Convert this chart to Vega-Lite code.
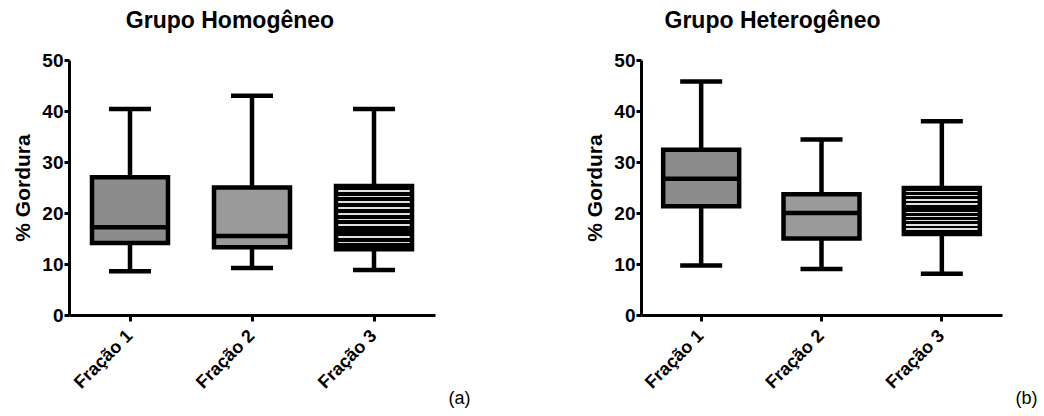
{
  "$schema": "https://vega.github.io/schema/vega-lite/v6.json",
  "background": "white",
  "padding": {"left": 12, "top": 10, "right": 5, "bottom": 5},
  "spacing": 114,
  "config": {
    "view": {"stroke": null},
    "font": "Liberation Sans",
    "axis": {
      "domainColor": "black", "domainWidth": 3, "tickColor": "black", "tickWidth": 3, "tickSize": 6,
      "labelColor": "black", "labelFont": "Liberation Sans", "labelFontWeight": "bold", "labelFontSize": 19,
      "titleColor": "black", "titleFont": "Liberation Sans", "grid": false
    },
    "title": {"font": "Liberation Sans", "fontSize": 23, "fontWeight": "bold", "color": "black", "anchor": "middle"}
  },
  "datasets": {
    "box": [
      {"grupo": "Homogêneo", "fracao": "Fração 1", "min": 8.6, "q1": 14.1, "median": 17.2, "q3": 27.0, "max": 40.4},
      {"grupo": "Homogêneo", "fracao": "Fração 2", "min": 9.2, "q1": 13.3, "median": 15.5, "q3": 25.0, "max": 43.0},
      {"grupo": "Homogêneo", "fracao": "Fração 3", "min": 8.8, "q1": 12.9, "median": 16.5, "q3": 25.3, "max": 40.4},
      {"grupo": "Heterogêneo", "fracao": "Fração 1", "min": 9.7, "q1": 21.3, "median": 26.7, "q3": 32.4, "max": 45.8},
      {"grupo": "Heterogêneo", "fracao": "Fração 2", "min": 9.0, "q1": 15.0, "median": 20.0, "q3": 23.7, "max": 34.4},
      {"grupo": "Heterogêneo", "fracao": "Fração 3", "min": 8.1, "q1": 15.9, "median": 21.0, "q3": 24.9, "max": 38.0}
    ]
  },
  "hconcat": [
    {
      "width": 366, "height": 255,
      "title": {"text": "Grupo Homogêneo", "dx": -22, "offset": 18},
      "data": {"name": "box"},
      "transform": [{"filter": "datum.grupo == 'Homogêneo'"}],
      "encoding": {
        "x": {"field": "fracao", "type": "nominal", "scale": {"paddingInner": 0, "paddingOuter": 0},
          "axis": {"labelAngle": -45, "labelAlign": "right", "labelBaseline": "middle", "labelPadding": 12, "labelFontSize": 18,
            "title": "(a)", "titleFontWeight": "normal", "titleFontSize": 18, "titleAnchor": "start", "titleAlign": "left", "titleBaseline": "alphabetic", "titleX": 379, "titleY": 88}}
      },
      "layer": [
        {"mark": {"type": "rule", "strokeWidth": 4.5, "color": "black"},
         "encoding": {"y": {"field": "min", "type": "quantitative", "scale": {"domain": [0, 50]},
           "axis": {"values": [0, 10, 20, 30, 40, 50], "tickSize": 5, "labelPadding": 1, "title": "% Gordura", "titleFontSize": 21, "titleFontWeight": "bold", "titlePadding": 8}},
           "y2": {"field": "max"}}},
        {"mark": {"type": "tick", "size": 42, "thickness": 4.5, "color": "black", "opacity": 1}, "encoding": {"y": {"field": "min", "type": "quantitative"}}},
        {"mark": {"type": "tick", "size": 42, "thickness": 4.5, "color": "black", "opacity": 1}, "encoding": {"y": {"field": "max", "type": "quantitative"}}},
        {"transform": [{"filter": "datum.fracao != 'Fração 3'"}],
         "mark": {"type": "bar", "size": 76, "stroke": "black", "strokeWidth": 4.5, "opacity": 1},
         "encoding": {"y": {"field": "q1", "type": "quantitative"}, "y2": {"field": "q3"},
           "fill": {"field": "fracao", "type": "nominal", "scale": {"domain": ["Fração 1", "Fração 2", "Fração 3"], "range": ["#8c8c8c", "#9a9a9a", "#3c3c3c"]}, "legend": null}}},
        {"transform": [{"filter": "datum.fracao == 'Fração 3'"}],
         "mark": {"type": "bar", "size": 76, "stroke": "black", "strokeWidth": 4.5, "opacity": 1,
           "fill": {"gradient": "linear", "x1": 0, "y1": 0, "x2": 0, "y2": 1, "stops": [
             {"offset": 0, "color": "black"}, {"offset": 0.0636, "color": "black"}, {"offset": 0.0636, "color": "#e0e0e0"}, {"offset": 0.0909, "color": "#e0e0e0"},
             {"offset": 0.0909, "color": "black"}, {"offset": 0.1545, "color": "black"}, {"offset": 0.1545, "color": "#e0e0e0"}, {"offset": 0.1818, "color": "#e0e0e0"},
             {"offset": 0.1818, "color": "black"}, {"offset": 0.2455, "color": "black"}, {"offset": 0.2455, "color": "#e0e0e0"}, {"offset": 0.2727, "color": "#e0e0e0"},
             {"offset": 0.2727, "color": "black"}, {"offset": 0.3364, "color": "black"}, {"offset": 0.3364, "color": "#e0e0e0"}, {"offset": 0.3636, "color": "#e0e0e0"},
             {"offset": 0.3636, "color": "black"}, {"offset": 0.4273, "color": "black"}, {"offset": 0.4273, "color": "#e0e0e0"}, {"offset": 0.4545, "color": "#e0e0e0"},
             {"offset": 0.4545, "color": "black"}, {"offset": 0.5182, "color": "black"}, {"offset": 0.5182, "color": "#e0e0e0"}, {"offset": 0.5455, "color": "#e0e0e0"},
             {"offset": 0.5455, "color": "black"}, {"offset": 0.6091, "color": "black"}, {"offset": 0.6091, "color": "#e0e0e0"}, {"offset": 0.6364, "color": "#e0e0e0"},
             {"offset": 0.6364, "color": "black"}, {"offset": 0.7, "color": "black"}, {"offset": 0.7, "color": "#e0e0e0"}, {"offset": 0.7273, "color": "#e0e0e0"},
             {"offset": 0.7273, "color": "black"}, {"offset": 0.7909, "color": "black"}, {"offset": 0.7909, "color": "#e0e0e0"}, {"offset": 0.8182, "color": "#e0e0e0"},
             {"offset": 0.8182, "color": "black"}, {"offset": 0.8818, "color": "black"}, {"offset": 0.8818, "color": "#e0e0e0"}, {"offset": 0.9091, "color": "#e0e0e0"},
             {"offset": 0.9091, "color": "black"}, {"offset": 0.9727, "color": "black"}, {"offset": 0.9727, "color": "#e0e0e0"}, {"offset": 1, "color": "#e0e0e0"}
           ]}},
         "encoding": {"y": {"field": "q1", "type": "quantitative"}, "y2": {"field": "q3"}}},
        {"mark": {"type": "tick", "size": 76, "thickness": 4.5, "color": "black", "opacity": 1}, "encoding": {"y": {"field": "median", "type": "quantitative"}}}
      ]
    },
    {
      "width": 361, "height": 255,
      "title": {"text": "Grupo Heterogêneo", "dx": -49, "offset": 18},
      "data": {"name": "box"},
      "transform": [{"filter": "datum.grupo == 'Heterogêneo'"}],
      "encoding": {
        "x": {"field": "fracao", "type": "nominal", "scale": {"paddingInner": 0, "paddingOuter": 0},
          "axis": {"labelAngle": -45, "labelAlign": "right", "labelBaseline": "middle", "labelPadding": 12, "labelFontSize": 18,
            "title": "(b)", "titleFontWeight": "normal", "titleFontSize": 18, "titleAnchor": "start", "titleAlign": "left", "titleBaseline": "alphabetic", "titleX": 374, "titleY": 88}}
      },
      "layer": [
        {"mark": {"type": "rule", "strokeWidth": 4.5, "color": "black"},
         "encoding": {"y": {"field": "min", "type": "quantitative", "scale": {"domain": [0, 50]},
           "axis": {"values": [0, 10, 20, 30, 40, 50], "tickSize": 5, "labelPadding": 1, "title": "% Gordura", "titleFontSize": 21, "titleFontWeight": "bold", "titlePadding": 8}},
           "y2": {"field": "max"}}},
        {"mark": {"type": "tick", "size": 42, "thickness": 4.5, "color": "black", "opacity": 1}, "encoding": {"y": {"field": "min", "type": "quantitative"}}},
        {"mark": {"type": "tick", "size": 42, "thickness": 4.5, "color": "black", "opacity": 1}, "encoding": {"y": {"field": "max", "type": "quantitative"}}},
        {"transform": [{"filter": "datum.fracao != 'Fração 3'"}],
         "mark": {"type": "bar", "size": 76, "stroke": "black", "strokeWidth": 4.5, "opacity": 1},
         "encoding": {"y": {"field": "q1", "type": "quantitative"}, "y2": {"field": "q3"},
           "fill": {"field": "fracao", "type": "nominal", "scale": {"domain": ["Fração 1", "Fração 2", "Fração 3"], "range": ["#8c8c8c", "#9a9a9a", "#3c3c3c"]}, "legend": null}}},
        {"transform": [{"filter": "datum.fracao == 'Fração 3'"}],
         "mark": {"type": "bar", "size": 76, "stroke": "black", "strokeWidth": 4.5, "opacity": 1,
           "fill": {"gradient": "linear", "x1": 0, "y1": 0, "x2": 0, "y2": 1, "stops": [
             {"offset": 0, "color": "black"}, {"offset": 0.0636, "color": "black"}, {"offset": 0.0636, "color": "#e0e0e0"}, {"offset": 0.0909, "color": "#e0e0e0"},
             {"offset": 0.0909, "color": "black"}, {"offset": 0.1545, "color": "black"}, {"offset": 0.1545, "color": "#e0e0e0"}, {"offset": 0.1818, "color": "#e0e0e0"},
             {"offset": 0.1818, "color": "black"}, {"offset": 0.2455, "color": "black"}, {"offset": 0.2455, "color": "#e0e0e0"}, {"offset": 0.2727, "color": "#e0e0e0"},
             {"offset": 0.2727, "color": "black"}, {"offset": 0.3364, "color": "black"}, {"offset": 0.3364, "color": "#e0e0e0"}, {"offset": 0.3636, "color": "#e0e0e0"},
             {"offset": 0.3636, "color": "black"}, {"offset": 0.4273, "color": "black"}, {"offset": 0.4273, "color": "#e0e0e0"}, {"offset": 0.4545, "color": "#e0e0e0"},
             {"offset": 0.4545, "color": "black"}, {"offset": 0.5182, "color": "black"}, {"offset": 0.5182, "color": "#e0e0e0"}, {"offset": 0.5455, "color": "#e0e0e0"},
             {"offset": 0.5455, "color": "black"}, {"offset": 0.6091, "color": "black"}, {"offset": 0.6091, "color": "#e0e0e0"}, {"offset": 0.6364, "color": "#e0e0e0"},
             {"offset": 0.6364, "color": "black"}, {"offset": 0.7, "color": "black"}, {"offset": 0.7, "color": "#e0e0e0"}, {"offset": 0.7273, "color": "#e0e0e0"},
             {"offset": 0.7273, "color": "black"}, {"offset": 0.7909, "color": "black"}, {"offset": 0.7909, "color": "#e0e0e0"}, {"offset": 0.8182, "color": "#e0e0e0"},
             {"offset": 0.8182, "color": "black"}, {"offset": 0.8818, "color": "black"}, {"offset": 0.8818, "color": "#e0e0e0"}, {"offset": 0.9091, "color": "#e0e0e0"},
             {"offset": 0.9091, "color": "black"}, {"offset": 0.9727, "color": "black"}, {"offset": 0.9727, "color": "#e0e0e0"}, {"offset": 1, "color": "#e0e0e0"}
           ]}},
         "encoding": {"y": {"field": "q1", "type": "quantitative"}, "y2": {"field": "q3"}}},
        {"mark": {"type": "tick", "size": 76, "thickness": 4.5, "color": "black", "opacity": 1}, "encoding": {"y": {"field": "median", "type": "quantitative"}}}
      ]
    }
  ],
  "resolve": {"scale": {"fill": "independent"}}
}
